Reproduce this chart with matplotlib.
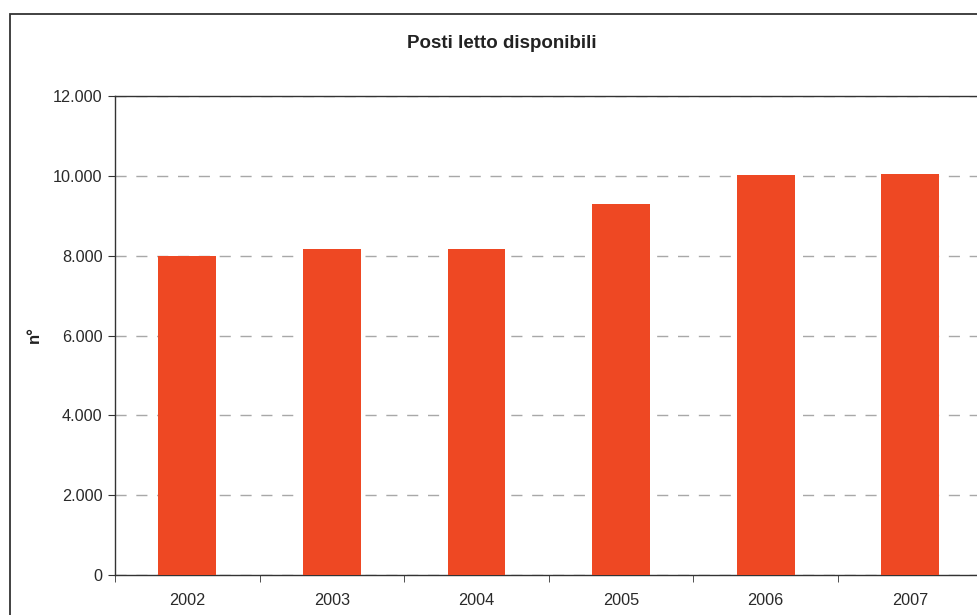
import matplotlib
matplotlib.use("Agg")
import matplotlib.pyplot as plt
from matplotlib.patches import Rectangle
from matplotlib.ticker import FuncFormatter

years = ["2002", "2003", "2004", "2005", "2006", "2007"]
beds = [7980, 8160, 8160, 9290, 10010, 10040]
y_ticks = [0, 2000, 4000, 6000, 8000, 10000, 12000]

plt.rcParams['font.family'] = ['Liberation Sans', 'DejaVu Sans']

W, H = 977, 615
fig = plt.figure(figsize=(W / 100, H / 100), dpi=100)

# outer chart frame
fig.patches.append(Rectangle((10 / W, -0.05), 1.1, 1 - 14 / H + 0.05,
                             transform=fig.transFigure, fill=False,
                             edgecolor='#333333', linewidth=1.3))

left, right, top, bottom = 115, 982.5, 96, 575
ax = fig.add_axes([left / W, 1 - bottom / H, (right - left) / W, (bottom - top) / H])

x = list(range(len(years)))
ax.bar(x, beds, width=0.4, color='#EE4823', zorder=3)

ax.set_xlim(-0.5, len(years) - 0.5)
ax.set_ylim(0, 12000)
ax.set_yticks(y_ticks)
ax.yaxis.set_major_formatter(FuncFormatter(lambda v, p: f"{int(v):,}".replace(",", ".")))

ax.set_xticks(x)
ax.set_xticklabels(years)
ax.set_xticks([i - 0.5 for i in range(len(years) + 1)], minor=True)
ax.tick_params(axis='x', which='major', length=0, pad=13, labelsize=11.7, colors='#2a2a2a')
ax.tick_params(axis='x', which='minor', length=5, direction='out', color='#333333')
ax.tick_params(axis='y', length=5, direction='out', color='#333333', labelsize=11.7,
               colors='#2a2a2a', pad=4)

ax.yaxis.grid(True, linestyle=(0, (8, 7)), color='#A8A8A8', linewidth=1.0, zorder=0)
for s in ['left', 'bottom', 'top']:
    ax.spines[s].set_color('#333333')
    ax.spines[s].set_linewidth(1.0)
ax.spines['right'].set_visible(False)

fig.text(502 / W, 1 - 44 / H, "Posti letto disponibili", ha='center', va='center',
         fontsize=13.5, fontweight='bold', color='#222222')
fig.text(34 / W, 1 - 335 / H, "n°", ha='center', va='center', rotation=90,
         fontsize=12, fontweight='bold', color='#222222')

fig.savefig("out.png", dpi=100)
